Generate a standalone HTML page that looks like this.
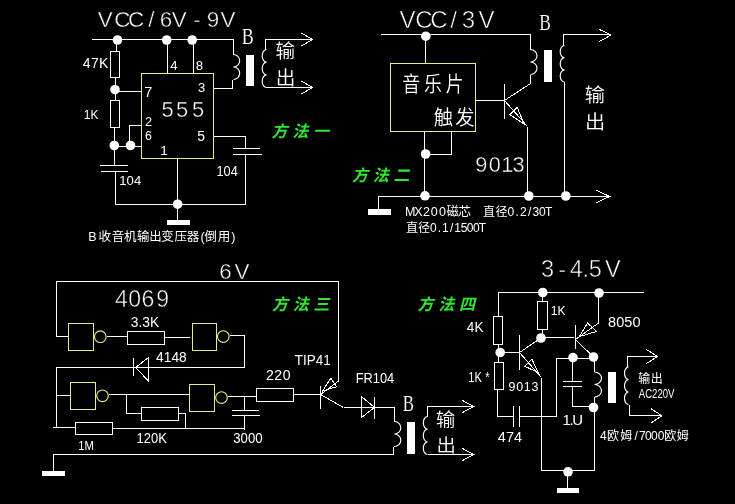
<!DOCTYPE html>
<html lang="zh">
<head>
<meta charset="utf-8">
<title>电路图 方法一至方法四</title>
<style>
html,body{margin:0;padding:0;background:#000;}
body{width:735px;height:504px;overflow:hidden;}
svg{display:block;will-change:transform;}
.w{fill:none;stroke:#fff;stroke-width:1;shape-rendering:crispEdges;}
.g{fill:none;stroke:#fff;stroke-width:1;shape-rendering:crispEdges;}
.c{fill:none;stroke:#fff;stroke-width:1.15;}
.a{fill:none;stroke:#fff;stroke-width:1;shape-rendering:crispEdges;}
.y{fill:none;stroke:#e2f07e;stroke-width:1;shape-rendering:crispEdges;}
.yc{fill:none;stroke:#e2f07e;stroke-width:1.15;}
.b{fill:#fff;stroke:none;shape-rendering:crispEdges;}
.d{fill:#fff;stroke:none;}
.t{font-family:"Liberation Sans",sans-serif;fill:#fff;}

.ts{font-family:"Liberation Serif",serif;fill:#fff;}
.k{font-family:"Liberation Sans","Noto Sans CJK SC",sans-serif;font-weight:350;fill:#fff;}
.s{font-family:"Liberation Sans","Noto Sans CJK SC",sans-serif;fill:#fff;}
.m{font-family:"Liberation Sans","Noto Sans CJK SC",sans-serif;font-weight:700;font-style:italic;fill:#2ee82e;}
</style>
</head>
<body>
<svg width="735" height="504" viewBox="0 0 735 504">
<rect x="0" y="0" width="735" height="504" fill="#000"/>
<g id="method1">
<path class="w" d="M92,39.5 L233.5,39.5 L233.5,54.5"/>
<path class="c" d="M233.5,54.5 a6.2,6.25 0 0 1 0,12.5 a6.2,6.25 0 0 1 0,12.5"/>
<path class="w" d="M232.5,79.5 L232.5,88.5 L213.5,88.5"/>
<path class="w" d="M116.5,39.5 L116.5,51.5"/>
<rect class="w" x="110.5" y="51.5" width="9" height="26"/>
<path class="w" d="M115.5,77.5 L115.5,100.5"/>
<path class="w" d="M115.5,91.5 L141.5,91.5"/>
<rect class="w" x="110.5" y="100.5" width="9" height="27"/>
<path class="w" d="M114.5,127.5 L114.5,165.5"/>
<path class="w" d="M114.5,146.5 L141.5,146.5"/>
<path class="w" d="M141.5,125.5 L129.5,125.5 L129.5,146.5"/>
<path class="w" d="M99.5,165.5 L127.5,165.5"/>
<path class="w" d="M100.5,171.5 L127.5,171.5"/>
<path class="w" d="M115.5,171.5 L115.5,204.5 L245.5,204.5 L245.5,154.5"/>
<rect class="y" x="141.5" y="73.5" width="72" height="85"/>
<path class="w" d="M167.5,39.5 L167.5,73.5"/>
<path class="w" d="M193.5,39.5 L193.5,73.5"/>
<path class="w" d="M213.5,136.5 L245.5,136.5 L245.5,148.5"/>
<path class="w" d="M232.5,148.5 L260,148.5"/>
<path class="w" d="M232.5,154.5 L261.5,154.5"/>
<path class="w" d="M177.5,158.5 L177.5,220"/>
<rect class="b" x="167" y="220" width="23" height="5"/>
<circle class="d" cx="117.5" cy="40" r="4.8"/>
<circle class="d" cx="166.7" cy="40" r="4.8"/>
<circle class="d" cx="192.2" cy="40" r="4.8"/>
<circle class="d" cx="115" cy="89.7" r="4.8"/>
<circle class="d" cx="114.3" cy="145.5" r="4.8"/>
<circle class="d" cx="130.5" cy="145.5" r="4.8"/>
<circle class="d" cx="177.6" cy="204.2" r="4.8"/>
<rect class="b" x="246" y="55" width="8" height="31"/>
<path class="w" d="M312.5,39.5 L265.5,39.5 L265.5,49.5"/>
<path class="c" d="M266.5,49.5 a4.3,6.33 0 0 0 0,12.67 a4.3,6.33 0 0 0 0,12.67 a4.3,6.33 0 0 0 0,12.67"/>
<path class="w" d="M266,87.5 L312.5,87.5"/>
<path class="a" d="M301.5,33 L312.5,39.5 L301.5,46"/>
<path class="a" d="M301.5,81 L312.5,87.5 L301.5,94"/>
<text class="t" x="97.75 114.17 128.07 148.26 159.77 171.85 193.15 206.78 220.55" y="27.23" font-size="22.4" stroke="#000" stroke-width="0.46">VCC/6V-9V</text>
<text class="t" x="82.72 90.91 99.09" y="67.7" font-size="14.06">47K</text>
<text class="t" transform="scale(0.949,1)" x="88.27 95.29" y="118.7" font-size="12.61">1K</text>
<text class="t" x="144.13" y="97" font-size="14.49">7</text>
<text class="t" x="144.96" y="125.5" font-size="12.75">2</text>
<text class="t" x="145.02" y="139.5" font-size="12.32">6</text>
<text class="t" x="170.16" y="70.3" font-size="13.19">4</text>
<text class="t" x="195.71" y="70.3" font-size="13.19">8</text>
<text class="t" x="197.92" y="91.7" font-size="12.9">3</text>
<text class="t" x="161.42 175.92 191.92" y="116.91" font-size="21.91" stroke="#000" stroke-width="0.42">555</text>
<text class="t" x="197.14" y="141.3" font-size="13.91">5</text>
<text class="t" x="160.17" y="154.7" font-size="13.62">1</text>
<text class="t" transform="scale(0.984,1)" x="121.24 128.66 136.08" y="185.5" font-size="13.33">104</text>
<text class="t" transform="scale(0.920,1)" x="235.35 243.08 250.82" y="176.3" font-size="13.91">104</text>
<text class="ts" transform="scale(0.769,1)" x="314.26" y="43.75" font-size="23.36" stroke="#000" stroke-width="0.1">B</text>
<text class="k" transform="scale(1.012,1)" x="272.2 272.45" y="57.82 84.87" font-size="19.4">输出</text>
<text class="s" x="88.16 98.39 111.85 124.09 137.09 149.25 161.19 174.41 186.65 200.59 204.43 217.65 231.18" y="241" font-size="12.5">B收音机输出变压器(倒用)</text>
<text class="m" x="271.5 292.3 313.1" y="137" font-size="16">方法一</text>
</g>
<g id="method2">
<path class="w" d="M380.5,34.5 L530.5,34.5 L530.5,49.5"/>
<path class="c" d="M530.5,49.5 a6.5,6.25 0 0 1 0,12.5 a6.5,6.25 0 0 1 0,12.5"/>
<path class="w" d="M530.5,74.5 L530.5,83.5"/>
<path class="g" d="M530.5,83.5 L504.5,100.5"/>
<path class="w" d="M425.5,34.5 L425.5,63.5"/>
<rect class="y" x="390.5" y="63.5" width="85" height="68"/>
<path class="w" d="M475.5,100.5 L504.5,100.5"/>
<path class="w" d="M504.5,83.5 L504.5,118.5"/>
<path class="g" d="M504.5,100.5 L527.5,126.5"/>
<path class="g" d="M517.2,107.2 L510,114.7 L524.2,124.2 Z"/>
<path class="w" d="M527.5,126.5 L527.5,196.5"/>
<rect class="b" x="544" y="50" width="8" height="32"/>
<path class="w" d="M611,34.5 L563.5,34.5 L563.5,45.5"/>
<path class="c" d="M564.5,45.5 a4.3,6.08 0 0 0 0,12.17 a4.3,6.08 0 0 0 0,12.17 a4.3,6.08 0 0 0 0,12.17"/>
<path class="w" d="M564.5,82 L564.5,196.5"/>
<path class="a" d="M599.5,29.5 L611,35 L599.5,41.5"/>
<path class="w" d="M609,196.5 L378.5,196.5 L378.5,209"/>
<path class="a" d="M595.5,189.7 L609.5,196.5 L595.5,203.3"/>
<rect class="b" x="368" y="209" width="23" height="6"/>
<path class="w" d="M424.5,131.5 L424.5,196.5"/>
<path class="w" d="M451.5,131.5 L451.5,154.5 L424.5,154.5"/>
<circle class="d" cx="425.8" cy="36.2" r="4.8"/>
<circle class="d" cx="425.6" cy="154" r="4.8"/>
<circle class="d" cx="425" cy="195.8" r="4.8"/>
<circle class="d" cx="528.8" cy="196" r="4.8"/>
<circle class="d" cx="565.8" cy="196" r="4.8"/>
<text class="t" x="399.51 415.17 430.17 450.33 461.83 478.51" y="28.29" font-size="24.04" stroke="#000" stroke-width="0.59">VCC/3V</text>
<text class="ts" transform="scale(0.757,1)" x="712.46" y="30.05" font-size="23.05" stroke="#000" stroke-width="0.1">B</text>
<text class="t" x="475.17 488.71 501.34 512.47" y="171.5" font-size="21.75" stroke="#000" stroke-width="0.4">9013</text>
<text class="k" transform="scale(0.856,1)" x="469.81 495.22 520.69" y="91.05 90.89 90.94" font-size="20.91">音乐片</text>
<text class="k" transform="scale(0.957,1)" x="453.28 475.63" y="125.28 125.28" font-size="20.22">触发</text>
<text class="k" transform="scale(1.016,1)" x="575.48 575.72" y="101.81 128.91" font-size="19.89">输出</text>
<text class="s" x="405.01 414.31 422.93 430.8 439 446.48 458.51" y="215.7" font-size="12.5">MX200磁芯</text>
<text class="s" x="483 495.56 507.39 515.4 520.02 527.97 532.62 538.89 544.89" y="215.8" font-size="12">直径0.2/30T</text>
<text class="s" x="406 418.06 429.91 437.78 442.06 450.04 454.37 460.69 466.81 472.96 478.81" y="231.8" font-size="12">直径0.1/1500T</text>
<text class="m" x="352 372.8 393.6" y="181" font-size="16">方法二</text>
</g>
<g id="method3">
<path class="w" d="M68,336.5 L56.5,336.5 L56.5,281.5 L338.5,281.5 L338.5,381"/>
<rect class="y" x="68.5" y="323.5" width="25" height="27"/>
<circle class="yc" cx="100.3" cy="336.7" r="5.8"/>
<path class="w" d="M106.5,336.5 L127,336.5"/>
<rect class="w" x="127.5" y="331.5" width="37" height="13"/>
<path class="w" d="M164.5,337.5 L190,337.5"/>
<rect class="y" x="192.5" y="323.5" width="24" height="27"/>
<circle class="yc" cx="223.3" cy="336.5" r="5.8"/>
<path class="w" d="M229.5,335.5 L244.5,335.5 L244.5,367.5 L56.5,367.5 L56.5,427.5"/>
<path class="w" d="M133.5,357.5 L133.5,375.5"/>
<path class="g" d="M135.5,367.5 L148.5,357.5 L148.5,381 Z"/>
<path class="w" d="M56.5,395.5 L70.5,395.5"/>
<rect class="y" x="70.5" y="382.5" width="25" height="27"/>
<circle class="yc" cx="102.5" cy="395.8" r="5.8"/>
<path class="w" d="M108.5,394.5 L189.5,394.5"/>
<path class="w" d="M126.5,394.5 L126.5,413.5 L141.5,413.5"/>
<rect class="w" x="141.5" y="407.5" width="37" height="13"/>
<path class="w" d="M178.5,413.5 L185.5,413.5 L185.5,428.5"/>
<path class="w" d="M53,427.5 L75.5,427.5"/>
<rect class="w" x="75.5" y="422.5" width="37" height="12"/>
<path class="w" d="M112.5,428.5 L244.5,428.5"/>
<rect class="y" x="189.5" y="384.5" width="25" height="27"/>
<circle class="yc" cx="221.5" cy="397.5" r="5.8"/>
<path class="w" d="M227.5,396.5 L256.5,396.5"/>
<path class="w" d="M244.5,396.5 L244.5,410.5"/>
<path class="w" d="M232,410.5 L258.5,410.5"/>
<path class="w" d="M232,415.5 L259.5,415.5"/>
<path class="w" d="M244.5,415.5 L244.5,430"/>
<rect class="w" x="256.5" y="388.5" width="37" height="13"/>
<path class="w" d="M293.5,394.5 L320.5,394.5"/>
<path class="w" d="M320.5,386 L320.5,409"/>
<path class="g" d="M320.5,394.5 L338.5,381"/>
<path class="g" d="M330.8,378.3 L336.7,386.7 L322.5,391 Z"/>
<path class="g" d="M320.5,394.5 L343.5,407.5"/>
<path class="w" d="M343.5,407.5 L394.5,407.5 L394.5,421.5"/>
<path class="g" d="M361.5,396.5 L361.5,417.5 L374.5,407.5 Z"/>
<path class="w" d="M374.5,397 L374.5,419"/>
<path class="c" d="M394.5,421.5 a6.3,6.25 0 0 1 0,12.5 a6.3,6.25 0 0 1 0,12.5"/>
<path class="g" d="M394.5,446.5 L393.5,447.5 L393.5,454.5"/>
<path class="w" d="M393.5,454.5 L53.5,454.5 L53.5,471"/>
<rect class="b" x="42" y="471" width="23" height="5"/>
<rect class="b" x="407" y="422" width="8" height="31.5"/>
<path class="w" d="M473.5,406.5 L427.5,406.5 L427.5,416.5"/>
<path class="c" d="M427.5,416.5 a4.2,6.33 0 0 0 0,12.67 a4.2,6.33 0 0 0 0,12.67 a4.2,6.33 0 0 0 0,12.67"/>
<path class="w" d="M427.5,454.5 L474,454.5"/>
<path class="a" d="M462.5,400.5 L473.5,406.5 L462.5,412.5"/>
<path class="a" d="M462.5,448.5 L474,454.5 L462.5,460.5"/>
<text class="t" x="219.17 234.55" y="278.93" font-size="22.4" stroke="#000" stroke-width="0.46">6V</text>
<text class="t" x="114.92 128.14 141.39 156.2" y="306.95" font-size="23.06" stroke="#000" stroke-width="0.51">4069</text>
<text class="t" transform="scale(0.983,1)" x="133.05 140.87 144.78 152.6" y="326.7" font-size="14.06">3.3K</text>
<text class="t" transform="scale(0.967,1)" x="161.43 169.33 177.23 185.12" y="362" font-size="14.2">4148</text>
<text class="t" transform="scale(0.879,1)" x="89.16 96.25" y="450" font-size="12.75">1M</text>
<text class="t" transform="scale(0.896,1)" x="152.36 160.42 168.48 176.54" y="443.3" font-size="14.49">120K</text>
<text class="t" transform="scale(0.957,1)" x="243.73 251.39 259.04 266.7" y="442.8" font-size="13.77">3000</text>
<text class="t" x="266 274.34 282.69" y="379.7" font-size="14.06">220</text>
<text class="t" transform="scale(0.957,1)" x="308.01 316.6 320.5 329.88 337.7" y="365" font-size="14.06">TIP41</text>
<text class="t" transform="scale(0.913,1)" x="389.54 398.13 408.28 416.1 423.92" y="383" font-size="14.06">FR104</text>
<text class="ts" transform="scale(0.718,1)" x="560.8" y="410.85" font-size="23.36" stroke="#000" stroke-width="0.1">B</text>
<text class="k" transform="scale(1.046,1)" x="416.83 417.26" y="425.92 452.42" font-size="18.48">输出</text>
<text class="m" x="272 292.8 313.6" y="309.5" font-size="16">方法三</text>
</g>
<g id="method4">
<path class="w" d="M644,292.5 L498.5,292.5 L498.5,316.5"/>
<rect class="w" x="493.5" y="316.5" width="9" height="28"/>
<path class="w" d="M498.5,344.5 L498.5,362.5"/>
<rect class="w" x="494.5" y="362.5" width="9" height="27"/>
<path class="w" d="M497.5,389.5 L497.5,416.5 L513.5,416.5"/>
<path class="w" d="M513.5,406 L513.5,426.5"/>
<path class="w" d="M519.5,406 L519.5,426.5"/>
<path class="w" d="M519.5,416.5 L556.5,416.5 L556.5,358.5 L593.5,358.5"/>
<path class="w" d="M542.5,292.5 L542.5,301.5"/>
<rect class="w" x="537.5" y="301.5" width="10" height="28"/>
<path class="w" d="M542.5,329.5 L542.5,338"/>
<path class="w" d="M500,352.5 L519.5,352.5"/>
<path class="w" d="M519.5,335 L519.5,370"/>
<path class="g" d="M519.5,352.5 L541,338"/>
<path class="w" d="M541,337.5 L573.5,337.5"/>
<path class="g" d="M519.5,352.5 L541.5,377.5"/>
<path class="g" d="M531.9,359 L524.8,366.3 L538,372.5 Z"/>
<path class="w" d="M541.5,377.5 L541.5,470.5 L594.5,470.5 L594.5,407.5"/>
<path class="w" d="M575.5,325 L575.5,349"/>
<path class="g" d="M575.5,339.5 L598.5,323"/>
<path class="g" d="M587.5,323 L596.6,331.5 L579.5,336.5 Z"/>
<path class="w" d="M598.5,293 L598.5,323"/>
<path class="g" d="M575.5,339.5 L593.5,357"/>
<path class="w" d="M572.5,358 L572.5,381.5"/>
<path class="w" d="M562.5,381.5 L581.5,381.5"/>
<path class="w" d="M562.5,386.5 L581.5,386.5"/>
<path class="w" d="M572.5,386.5 L572.5,406.5 L593.5,406.5"/>
<path class="w" d="M594.5,357 L594.5,372"/>
<path class="c" d="M594.5,372 a7,6.25 0 0 1 0,12.5 a7,6.25 0 0 1 0,12.5"/>
<path class="w" d="M594.5,397 L594.5,407.5"/>
<path class="w" d="M567.5,470.5 L567.5,487.5"/>
<rect class="b" x="556.5" y="487.5" width="22" height="5"/>
<rect class="b" x="608" y="372" width="8" height="31"/>
<path class="w" d="M657.5,356.5 L627.5,356.5 L627.5,367"/>
<path class="c" d="M628.5,367 a4,6.25 0 0 0 0,12.5 a4,6.25 0 0 0 0,12.5 a4,6.25 0 0 0 0,12.5"/>
<path class="w" d="M629.5,404.5 L629.5,415.5 L662,415.5"/>
<path class="a" d="M646.5,349.5 L657.5,356.5 L646.5,363.5"/>
<path class="a" d="M651.2,408.8 L662,415.8 L651.2,422.8"/>
<circle class="d" cx="542.8" cy="292.5" r="4.8"/>
<circle class="d" cx="599" cy="293" r="4.8"/>
<circle class="d" cx="500.2" cy="352.5" r="4.8"/>
<circle class="d" cx="541" cy="338" r="4.8"/>
<circle class="d" cx="573" cy="357.6" r="4.8"/>
<circle class="d" cx="593.5" cy="357" r="4.8"/>
<circle class="d" cx="593.5" cy="407.5" r="4.8"/>
<circle class="d" cx="568" cy="471.8" r="4.8"/>
<text class="t" x="540.97 558.26 569.78 582.56 588.67 605.07" y="277.27" font-size="23.55" stroke="#000" stroke-width="0.55">3-4.5V</text>
<text class="t" transform="scale(0.920,1)" x="507.42 515.64" y="332.3" font-size="14.78">4K</text>
<text class="t" transform="scale(0.931,1)" x="591.48 598.74" y="315" font-size="13.04">1K</text>
<text class="t" x="608.05 616.19 624.33 632.46" y="326.8" font-size="14.49">8050</text>
<text class="t" transform="scale(0.800,1)" x="585.18 593.14 606.66" y="382" font-size="13.91">1K*</text>
<text class="t" x="508.44 516.15 523.87 531.58" y="390.6" font-size="12.46">9013</text>
<text class="t" x="497.71 505.9 514.09" y="441.7" font-size="14.49">474</text>
<text class="t" x="562.43 569.45 572.13" y="424.9" font-size="14.93">1.U</text>
<text class="s" x="638.24 650.8" y="383" font-size="12">输出</text>
<text class="t" transform="scale(0.759,1)" x="841.66 850.07 859.17 866.19 873.2 880.21" y="398.5" font-size="12.61">AC220V</text>
<text class="s" x="600.03 606.96 620.13 634.42 639.07 645.04 651.04 657.64 664.16 676.83" y="439.6" font-size="12">4欧姆/7000欧姆</text>
<text class="m" x="417.5 438.3 459.1" y="310" font-size="16">方法四</text>
</g>
</svg>
</body>
</html>
